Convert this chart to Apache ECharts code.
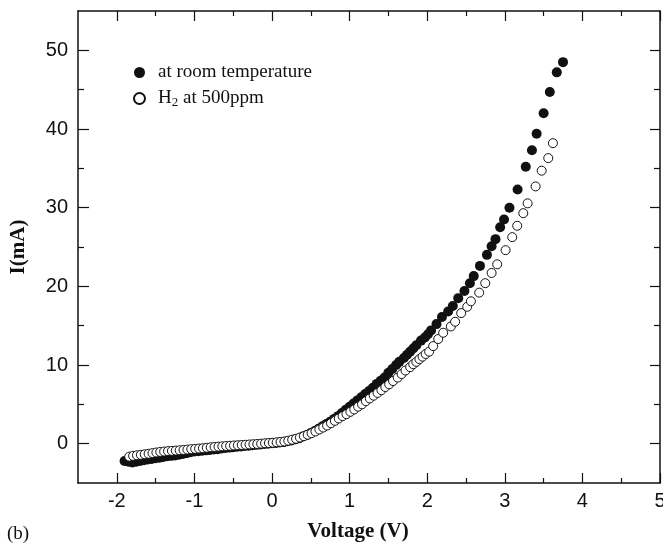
<!DOCTYPE html>
<html>
<head>
<meta charset="utf-8">
<script src="https://cdn.jsdelivr.net/npm/echarts@6/dist/echarts.min.js"></script>
<style>
  html, body { margin: 0; padding: 0; background: #fff; }
  #chart { width: 663px; height: 546px; }
</style>
</head>
<body>
<div id="chart"></div>
<script>
// room temperature (filled dots)
const roomV = [-1.90,-1.85,-1.80,-1.75,-1.70,-1.65,-1.60,-1.55,-1.50,-1.45,
  -1.40,-1.35,-1.30,-1.25,-1.20,-1.15,-1.10,-1.05,-1.00,-0.95,
  -0.90,-0.85,-0.80,-0.75,-0.70,-0.65,-0.60,-0.55,-0.50,-0.45,
  -0.40,-0.35,-0.30,-0.25,-0.20,-0.15,-0.10,-0.05,0.00,0.05,
  0.10,0.15,0.20,0.25,0.30,0.35,0.40,0.45,0.50,0.55,
  0.60,0.65,0.70,0.75,0.80,0.85,0.90,0.95,1.00,1.05,
  1.10,1.15,1.20,1.25,1.30,1.35,1.40,1.45,1.50,1.55,
  1.60,
  1.64,1.70,1.74,1.78,1.82,1.86,1.92,1.97,2.01,2.05,
  2.12,2.19,2.27,2.33,2.40,2.48,2.55,2.60,2.68,2.77,
  2.83,2.88,2.94,2.99,3.06,3.165,3.27,3.35,3.41,3.50,
  3.58,3.67,3.75]
const roomI = [-2.2,-2.3,-2.4,-2.3,-2.2,-2.1,-2.0,-1.95,-1.85,-1.8,
  -1.7,-1.6,-1.55,-1.5,-1.4,-1.3,-1.2,-1.1,-1.0,-0.95,
  -0.9,-0.85,-0.8,-0.75,-0.7,-0.62,-0.56,-0.5,-0.45,-0.4,
  -0.35,-0.3,-0.25,-0.2,-0.15,-0.1,-0.05,0.0,0.05,0.1,
  0.15,0.2,0.3,0.4,0.55,0.7,0.9,1.1,1.35,1.6,
  1.9,2.2,2.5,2.8,3.15,3.5,3.9,4.3,4.7,5.1,
  5.5,5.9,6.3,6.7,7.1,7.6,8.0,8.4,9.0,9.5,
  10.0,
  10.4,10.9,11.3,11.7,12.1,12.5,13.1,13.5,13.9,14.4,
  15.2,16.1,16.8,17.5,18.5,19.4,20.4,21.3,22.6,24.0,
  25.1,26.0,27.5,28.5,30.0,32.3,35.2,37.3,39.4,42.0,
  44.7,47.2,48.5]

// H2 at 500ppm (open circles)
const h2V = [-1.84,-1.79,-1.74,-1.69,-1.64,-1.59,-1.54,-1.49,-1.44,-1.39,
  -1.34,-1.29,-1.24,-1.19,-1.14,-1.09,-1.04,-0.99,-0.94,-0.89,
  -0.84,-0.79,-0.74,-0.69,-0.64,-0.59,-0.54,-0.49,-0.44,-0.39,
  -0.34,-0.29,-0.24,-0.19,-0.14,-0.09,-0.04,0.01,0.06,0.11,
  0.16,0.21,0.26,0.31,0.36,0.41,0.46,0.51,0.56,0.61,
  0.66,0.71,0.76,0.81,0.86,0.91,0.96,1.01,1.06,1.11,
  1.16,1.21,1.26,1.31,1.36,1.41,1.46,1.51,1.56,1.62,
  1.67,1.72,1.78,1.82,1.86,1.90,1.94,1.98,2.025,2.077,
  2.142,2.206,2.305,2.36,2.438,2.516,2.563,2.67,2.748,2.83,
  2.902,3.01,3.096,3.16,3.238,3.294,3.397,3.475,3.56,3.62]
const h2I = [-1.65,-1.55,-1.48,-1.42,-1.35,-1.28,-1.2,-1.12,-1.05,-1.0,
  -0.95,-0.92,-0.88,-0.84,-0.8,-0.75,-0.7,-0.66,-0.62,-0.58,
  -0.52,-0.46,-0.42,-0.38,-0.34,-0.3,-0.27,-0.23,-0.2,-0.17,
  -0.14,-0.1,-0.07,-0.04,0.0,0.05,0.08,0.12,0.17,0.22,
  0.28,0.38,0.5,0.62,0.78,0.95,1.13,1.33,1.55,1.8,
  2.05,2.3,2.6,2.9,3.2,3.5,3.75,4.05,4.35,4.7,
  5.0,5.4,5.75,6.1,6.45,6.8,7.2,7.55,7.96,8.4,
  8.85,9.3,9.73,10.1,10.4,10.75,11.06,11.4,11.7,12.4,
  13.3,14.1,14.9,15.5,16.6,17.4,18.1,19.2,20.4,21.7,
  22.8,24.6,26.25,27.7,29.3,30.55,32.7,34.7,36.3,38.2]

const xMajor = [-2, -1, 0, 1, 2, 3, 4, 5]
const xMinor = [-1.5, -0.5, 0.5, 1.5, 2.5, 3.5, 4.5]
const yMajor = [0, 10, 20, 30, 40, 50]
const yMinor = [5, 15, 25, 35, 45]

const seriesNames = ['at room temperature', 'H2 at 500ppm']

const serif = '"Liberation Serif", "DejaVu Serif", serif'
const sans = '"Liberation Sans", Arial, sans-serif'
const ink = '#111'

function xAx(pos, ticks, len, showLine, labels) {
  return {
    type: 'value', position: pos, min: -2.5, max: 5,
    splitLine: { show: false },
    axisLine: { show: showLine, onZero: false, lineStyle: { color: ink, width: 1.5 } },
    axisTick: { inside: true, length: len, customValues: ticks, lineStyle: { color: ink, width: 1.2 } },
    axisLabel: labels ? { customValues: ticks, color: ink, fontSize: 20, fontFamily: sans, margin: 8 } : { show: false }
  }
}
function yAx(pos, ticks, len, showLine, labels) {
  return {
    type: 'value', position: pos, min: -5, max: 55,
    splitLine: { show: false },
    axisLine: { show: showLine, onZero: false, lineStyle: { color: ink, width: 1.5 } },
    axisTick: { inside: true, length: len, customValues: ticks, lineStyle: { color: ink, width: 1.2 } },
    axisLabel: labels ? { customValues: ticks, color: ink, fontSize: 20, fontFamily: sans, margin: 10 } : { show: false }
  }
}

const chart = echarts.init(document.getElementById('chart'))

const xMain = xAx('bottom', xMajor, 10, true, true)
xMain.name = 'Voltage (V)'
xMain.nameLocation = 'middle'
xMain.nameGap = 38
xMain.nameTextStyle = { color: ink, fontSize: 21, fontWeight: 'bold', fontFamily: serif, padding: [0, 22, 0, 0] }

const yMain = yAx('left', yMajor, 11, true, true)
yMain.name = 'I(mA)'
yMain.nameLocation = 'middle'
yMain.nameGap = 49
yMain.nameTextStyle = { color: ink, fontSize: 21, fontWeight: 'bold', fontFamily: serif }

chart.setOption({
  animation: false,
  grid: { left: 78, right: 3, top: 11, bottom: 63, containLabel: false, outerBoundsMode: 'none' },
  xAxis: [
    xMain,
    xAx('bottom', xMinor, 5, false, false),
    xAx('top', xMajor, 10, true, false),
    xAx('top', xMinor, 5, false, false)
  ],
  yAxis: [
    yMain,
    yAx('left', yMinor, 6, false, false),
    yAx('right', yMajor, 10, true, false),
    yAx('right', yMinor, 6, false, false)
  ],
  legend: {
    orient: 'vertical', left: 128, top: 58,
    itemWidth: 11, itemHeight: 11, itemGap: 7,
    selectedMode: false,
    data: seriesNames,
    formatter: function (name) {
      return name === 'H2 at 500ppm' ? 'H{sub|2} at 500ppm' : name
    },
    textStyle: {
      color: ink, fontSize: 19, fontFamily: serif, padding: [0, 0, 0, 8],
      rich: {
        sub: { fontSize: 13, fontFamily: serif, color: ink, verticalAlign: 'bottom', padding: [8, 0, 0, 0] }
      }
    }
  },
  graphic: [{
    type: 'text', left: 7, top: 525,
    style: { text: '(b)', font: '19px ' + serif, fill: ink }
  }],
  series: [{
    name: seriesNames[0],
    type: 'scatter',
    symbol: 'circle',
    symbolSize: 10,
    itemStyle: { color: ink, opacity: 1 },
    data: roomV.map((v, i) => [v, roomI[i]])
  }, {
    name: seriesNames[1],
    type: 'scatter',
    symbol: 'circle',
    symbolSize: 9,
    itemStyle: { color: '#fff', borderColor: ink, borderWidth: 1, opacity: 1 },
    data: h2V.map((v, i) => [v, h2I[i]])
  }]
})
</script>
</body>
</html>
